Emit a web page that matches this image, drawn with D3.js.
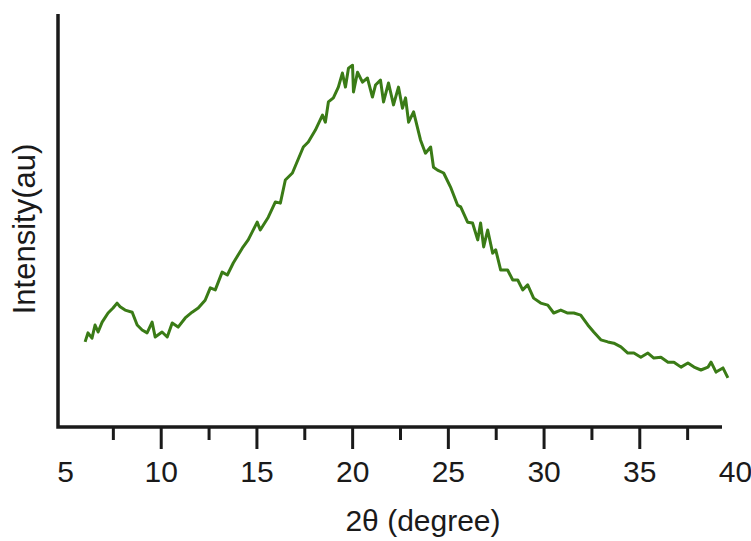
<!doctype html>
<html>
  <head>
    <meta charset='UTF-8'>
    <script src="https://d3js.org/d3.v7.min.js"></script>
    <style>
      body { margin: 0; background: #fff; }
      text { font-family: "Liberation Sans", Arial, sans-serif; fill: #1a1a1a; }
    </style>
  </head>
  <body>
    <svg id='render' width='751' height='541'></svg>
    <script>
      // XRD pattern (2theta in degree, intensity in arbitrary units)
      const twoTheta = [6.05, 6.20, 6.41, 6.57, 6.73, 6.94, 7.25, 7.51, 7.72, 7.88, 8.14, 8.51, 8.77, 9.03, 9.29, 9.55, 9.71,
                        10.07, 10.34, 10.60, 10.91, 11.28, 11.64, 11.96, 12.32, 12.59, 12.85, 13.21, 13.48, 13.79, 14.26, 14.57,
                        15.04, 15.20, 15.62, 15.99, 16.25, 16.51, 16.88, 17.45, 17.71, 18.08, 18.45, 18.60, 18.76, 19.02, 19.28,
                        19.49, 19.65, 19.81, 20.02, 20.07, 20.28, 20.54, 20.80, 21.06, 21.22, 21.48, 21.64, 21.90, 22.16, 22.42,
                        22.63, 22.79, 22.95, 23.21, 23.57, 23.83, 24.10, 24.25, 24.46, 24.78, 25.14, 25.51, 25.67, 26.03, 26.29,
                        26.56, 26.71, 26.87, 27.08, 27.34, 27.50, 27.76, 28.12, 28.39, 28.65, 28.91, 29.17, 29.48, 29.85, 30.22,
                        30.53, 30.90, 31.26, 31.58, 31.94, 32.31, 32.62, 32.99, 33.36, 33.67, 34.04, 34.40, 34.72, 35.08, 35.45,
                        35.76, 36.13, 36.50, 36.81, 37.18, 37.54, 37.86, 38.22, 38.59, 38.75, 39.01, 39.37, 39.63];
      const intensity = [206, 228, 215, 247, 230, 254, 276, 288, 300, 291, 283, 278, 247, 235, 228, 254, 218,
                         230, 218, 252, 242, 264, 278, 288, 307, 337, 332, 375, 368, 397, 433, 453,
                         496, 477, 508, 545, 542, 598, 615, 678, 690, 719, 755, 738, 787, 797, 823,
                         857, 823, 869, 876, 811, 859, 835, 845, 799, 828, 840, 787, 833, 780, 823,
                         772, 797, 738, 763, 695, 663, 678, 629, 622, 615, 581, 537, 533, 496, 494,
                         453, 494, 436, 477, 421, 429, 380, 380, 356, 356, 332, 344, 312, 300, 295,
                         276, 283, 276, 276, 271, 247, 230, 211, 206, 203, 194, 179, 179, 169, 179,
                         167, 169, 157, 157, 145, 155, 145, 138, 145, 157, 133, 143, 119];
      const majorTicks = [5, 10, 15, 20, 25, 30, 35, 40];
      const minorTicks = [7.5, 12.5, 17.5, 22.5, 27.5, 32.5, 37.5];

      const svg = d3.select("#render");
      const axisY = 427, axisLeft = 58, axisRight = 722, axisTop = 14;

      const x = d3.scaleLinear().domain([5, 40]).range([65, 735]);
      const y = d3.scaleLinear().domain([0, 1000]).range([axisY, axisTop]);

      // minor ticks
      svg.append("g")
        .attr("transform", `translate(0,${axisY})`)
        .call(d3.axisBottom(x).tickValues(minorTicks).tickSize(13).tickFormat(""))
        .call(g => g.select(".domain").remove())
        .call(g => g.selectAll("line").attr("stroke", "#1a1a1a").attr("stroke-width", 3));

      // major ticks with labels
      svg.append("g")
        .attr("transform", `translate(0,${axisY})`)
        .call(d3.axisBottom(x).tickValues(majorTicks).tickSize(22).tickPadding(12).tickFormat(d3.format("d")))
        .call(g => g.select(".domain").remove())
        .call(g => g.selectAll("line").attr("stroke", "#1a1a1a").attr("stroke-width", 3)
                     .attr("display", d => (d === 5 || d === 40) ? "none" : null))
        .call(g => g.selectAll("text").attr("font-size", 30).attr("font-family", "Liberation Sans, Arial, sans-serif").attr("fill", "#1a1a1a"));

      // axis lines
      svg.append("path")
        .attr("d", `M${axisLeft},${axisTop}V${axisY}H${axisRight}`)
        .attr("fill", "none")
        .attr("stroke", "#1a1a1a")
        .attr("stroke-width", 3.5);

      const line = d3.line()
        .x((d, i) => x(twoTheta[i]))
        .y(d => y(d));

      svg.append("path")
        .datum(intensity)
        .attr("d", line)
        .attr("fill", "none")
        .attr("stroke", "#3a7b16")
        .attr("stroke-width", 3)
        .attr("stroke-linejoin", "round");

      svg.append("text")
        .attr("x", 423)
        .attr("y", 531)
        .attr("text-anchor", "middle")
        .attr("font-size", 30)
        .text("2θ (degree)");

      svg.append("text")
        .attr("transform", "translate(35,229) rotate(-90)")
        .attr("text-anchor", "middle")
        .attr("font-size", 31)
        .text("Intensity(au)");
    </script>
  </body>
</html>
